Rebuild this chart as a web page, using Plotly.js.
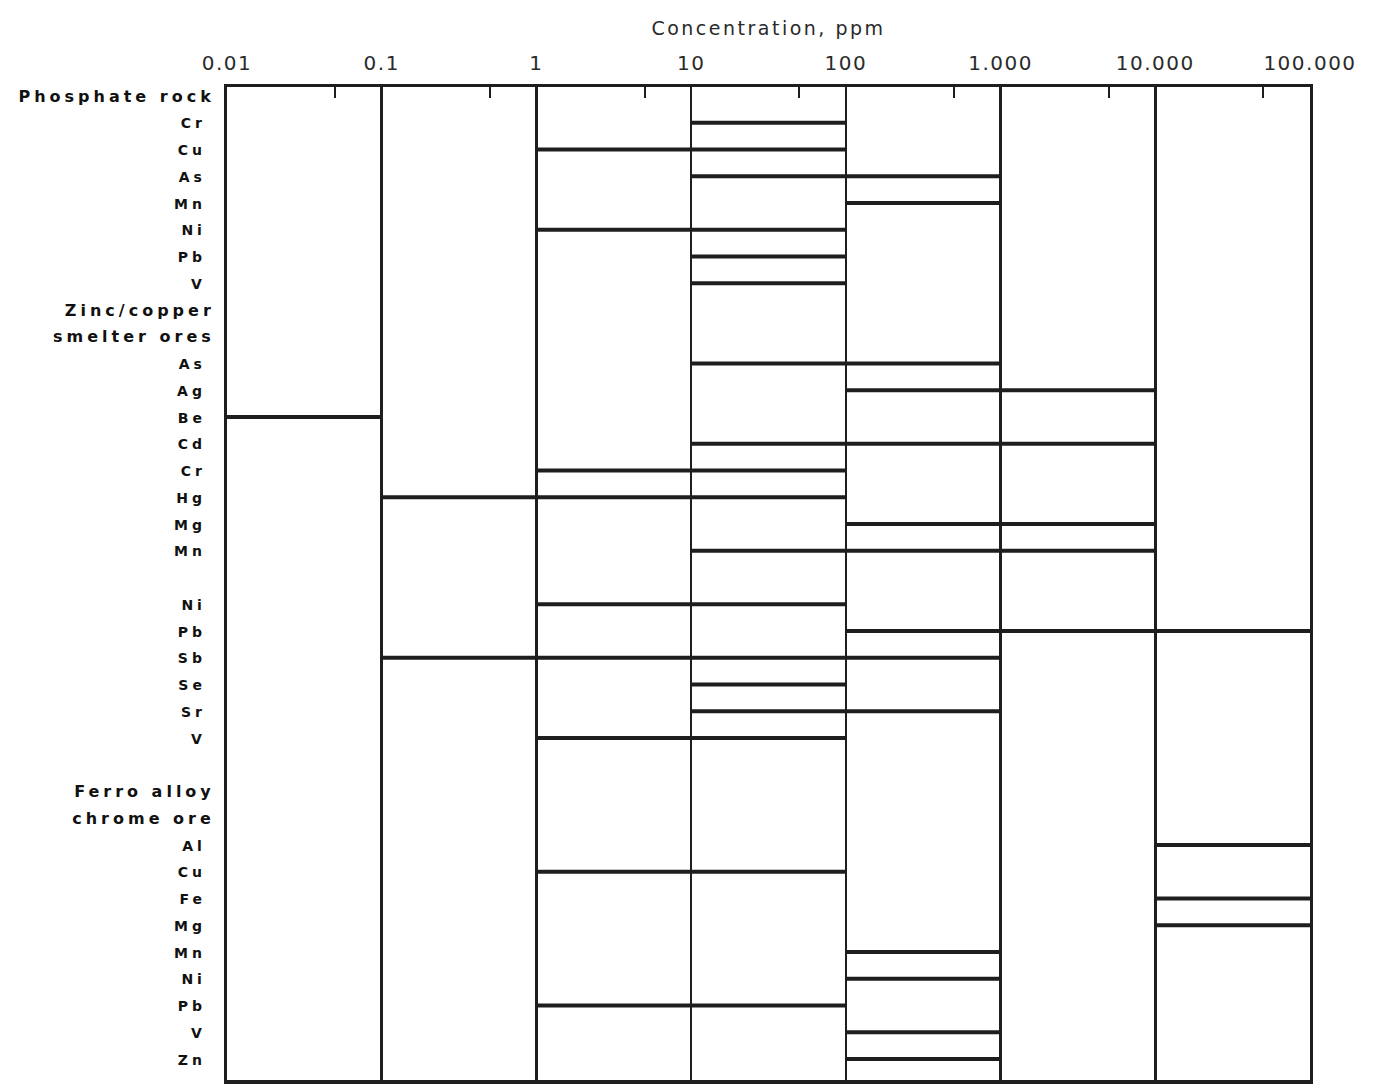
<!DOCTYPE html>
<html>
<head>
<meta charset="utf-8">
<script src="https://cdn.plot.ly/plotly-3.0.1.min.js"></script>
<style>
html, body { margin: 0; padding: 0; background: #ffffff; }
#chart { width: 1378px; height: 1087px; }
.ytick text { letter-spacing: 4px; }
.xtick text { letter-spacing: 1.5px; }
.gtitle { letter-spacing: 2.5px; }
</style>
</head>
<body>
<div id="chart"></div>
<script>
// ---- axis ticks ----
const tickValues = [0.01, 0.1, 1, 10, 100, 1000, 10000, 100000];
const tickLabels = ['0.01', '0.1', '1', '10', '100', '1.000', '10.000', '100.000'];
const minorTickValues = [0.05, 0.5, 5, 50, 500, 5000, 50000];

// ---- Phosphate rock ----
const phosphateHeader = ['Phosphate rock'];
const phosphateElements = ['Cr', 'Cu', 'As', 'Mn', 'Ni', 'Pb', 'V'];
const phosphateLow  = [10, 1, 10, 100, 1, 10, 10];
const phosphateHigh = [100, 100, 1000, 1000, 100, 100, 100];

// ---- Zinc/copper smelter ores ----
const smelterHeader = ['Zinc/copper', 'smelter ores'];
const smelterElements = ['As', 'Ag', 'Be', 'Cd', 'Cr', 'Hg', 'Mg', 'Mn', 'Ni', 'Pb', 'Sb', 'Se', 'Sr', 'V'];
const smelterLow  = [10, 100, 0.01, 10, 1, 0.1, 100, 10, 1, 100, 0.1, 10, 10, 1];
const smelterHigh = [1000, 10000, 0.1, 10000, 100, 100, 10000, 10000, 100, 100000, 1000, 100, 1000, 100];

// ---- Ferro alloy chrome ore ----
const ferroHeader = ['Ferro alloy', 'chrome ore'];
const ferroElements = ['Al', 'Cu', 'Fe', 'Mg', 'Mn', 'Ni', 'Pb', 'V', 'Zn'];
const ferroLow  = [10000, 1, 10000, 10000, 100, 100, 1, 100, 100];
const ferroHigh = [100000, 100, 100000, 100000, 1000, 1000, 100, 1000, 1000];

// ---- build row layout (labels top to bottom) ----
const sections = [
  { header: phosphateHeader, elements: phosphateElements, low: phosphateLow, high: phosphateHigh, gapBefore: 0, innerGapAt: -1 },
  { header: smelterHeader, elements: smelterElements, low: smelterLow, high: smelterHigh, gapBefore: 0, innerGapAt: 8 },
  { header: ferroHeader, elements: ferroElements, low: ferroLow, high: ferroHigh, gapBefore: 1, innerGapAt: -1 }
];

const rowVals = [];
const rowText = [];
const segX = [];
const segY = [];
let row = 0;
const NB = '\u00a0';
sections.forEach(sec => {
  row += sec.gapBefore;
  sec.header.forEach(h => {
    rowVals.push(row);
    rowText.push(h);
    row += 1;
  });
  sec.elements.forEach((el, i) => {
    if (i === sec.innerGapAt) row += 1;
    rowVals.push(row);
    rowText.push('<span style="font-size:14px">' + el + NB + '</span>');
    segX.push(sec.low[i], sec.high[i], null);
    segY.push(row, row, null);
    row += 1;
  });
});
const lastRow = row - 1;

const ink = '#1e1e1e';

const data = [{
  type: 'scatter',
  mode: 'lines',
  x: segX,
  y: segY,
  line: { color: ink, width: 4 },
  hoverinfo: 'skip',
  showlegend: false,
  connectgaps: false
}];

const layout = {
  width: 1378,
  height: 1087,
  margin: { l: 227, r: 68, t: 87, b: 7 },
  paper_bgcolor: '#ffffff',
  plot_bgcolor: '#ffffff',
  showlegend: false,
  title: {
    text: 'Concentration, ppm',
    font: { family: 'DejaVu Sans', size: 19, color: '#2a2a2a' },
    x: 0.5, xref: 'paper', xanchor: 'center',
    y: 1 - 28 / 1087, yref: 'container', yanchor: 'middle'
  },
  xaxis: {
    type: 'log',
    range: [-2, 5],
    side: 'top',
    tickmode: 'array',
    tickvals: tickValues,
    ticktext: tickLabels,
    ticks: '',
    ticklabelstandoff: 6,
    tickfont: { family: 'DejaVu Sans', size: 20, color: '#2a2a2a' },
    showgrid: true,
    gridcolor: ink,
    gridwidth: 2.5,
    showline: true,
    mirror: true,
    linecolor: ink,
    linewidth: 3.5,
    zeroline: false,
    minor: {
      tickmode: 'array',
      tickvals: minorTickValues,
      ticks: 'inside',
      ticklen: 11,
      tickwidth: 2,
      tickcolor: ink,
      showgrid: false
    },
    fixedrange: true
  },
  yaxis: {
    range: [lastRow + 0.785, -0.336],
    tickmode: 'array',
    tickvals: rowVals,
    ticktext: rowText,
    ticks: '',
    ticklabelstandoff: 6,
    tickfont: { family: 'DejaVu Sans', size: 16, color: '#111111', weight: 'bold' },
    showgrid: false,
    zeroline: false,
    showline: true,
    mirror: true,
    linecolor: ink,
    linewidth: 3,
    fixedrange: true
  }
};

Plotly.newPlot('chart', data, layout, { displayModeBar: false, staticPlot: true });
</script>
</body>
</html>
